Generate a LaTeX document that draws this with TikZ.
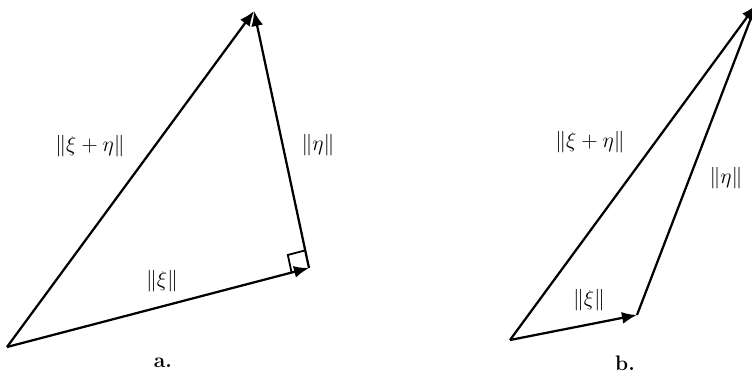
\documentclass[tikz,border=0pt]{standalone}
\usetikzlibrary{arrows.meta,calc}
\begin{document}
\begin{tikzpicture}[x=0.6667pt,y=-0.6667pt,
  vec/.style={line width=1.5pt,-{Latex[length=10pt,width=8pt]}},
  lbl/.style={inner sep=0pt,font=\fontsize{14}{17}\selectfont}]
\path[use as bounding box] (0,0) rectangle (752,376);
\clip (0,0) rectangle (752,376);
% figure a
\coordinate (O) at (7,347);
\coordinate (A) at (309,268);
\coordinate (B) at (254,11);
\coordinate (s1) at ($(A)!12pt!(O)$);
\coordinate (s3) at ($(A)!12pt!(B)$);
\coordinate (s2) at ($(s1)+(s3)-(A)$);
\draw[line width=1.2pt] (s1) -- (s2) -- (s3);
\draw[vec] (O) -- (A);
\draw[vec] (A) -- (B);
\draw[vec] (O) -- (B);
\node[lbl] (la1) at (90,146) {$\|\xi+\eta\|$};
\node[lbl] (la2) at (318,145) {$\|\eta\|$};
\node[lbl] (la3) at (162,281) {$\|\xi\|$};
\node[lbl] (la4) at (163,363) {\textbf{a.}};
% figure b
\coordinate (O2) at (510,340);
\coordinate (A2) at (637,315);
\coordinate (B2) at (756,5);
\draw[vec] (O2) -- (A2);
\draw[vec] (A2) -- (B2);
\draw[vec] (O2) -- (B2);
\node[lbl] (lb1) at (590,142) {$\|\xi+\eta\|$};
\node[lbl] (lb2) at (726,178) {$\|\eta\|$};
\node[lbl] (lb3) at (589,300) {$\|\xi\|$};
\node[lbl] (lb4) at (625,363) {\textbf{b.}};
\end{tikzpicture}
\end{document}
